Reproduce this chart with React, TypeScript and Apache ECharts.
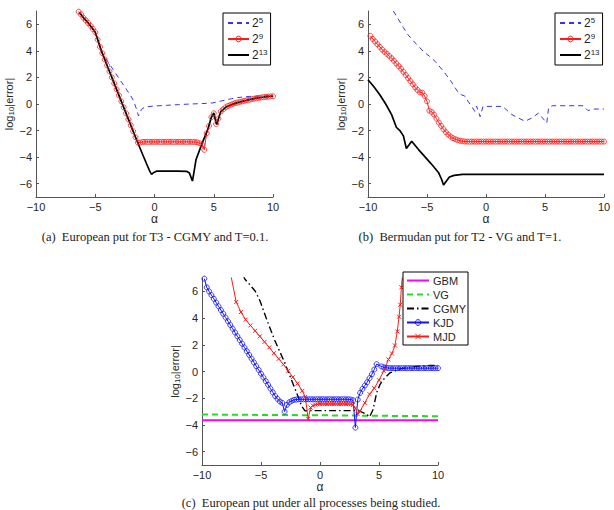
import React, { useEffect, useRef } from 'react';
import * as echarts from 'echarts';

// ---------- (a) European put, T3 - CGMY, T=0.1 ----------
const A_N5: number[][] = [[-6.35,6.9],[-6.0,6.5],[-5.5,6.0],[-5.0,5.4],[-4.7,4.6],[-4.4,3.8],[-4.0,3.27],[-3.5,2.6],[-3.0,1.93],[-2.5,1.27],[-2.0,0.6],[-1.8,0.3],[-1.55,-0.3],[-1.35,-0.9],[-1.1,-0.4],[-0.8,-0.22],[0,-0.15],[1,-0.1],[2,-0.05],[3,0.0],[4,0.03],[4.9,0.08],[5.5,0.2],[6.0,0.3],[6.5,0.4],[7.0,0.48],[7.5,0.53],[8.0,0.57],[9.0,0.6],[10,0.62]];
const A_N9: number[][] = [[-6.4,6.95],[-6.2,6.75],[-6.0,6.5],[-5.8,6.3],[-5.6,6.1],[-5.4,5.9],[-5.2,5.65],[-5.0,5.4],[-4.8,4.85],[-4.6,4.3],[-4.4,3.82],[-4.2,3.35],[-4.0,2.9],[-3.8,2.45],[-3.6,2.0],[-3.4,1.55],[-3.2,1.1],[-3.0,0.65],[-2.8,0.2],[-2.6,-0.25],[-2.4,-0.7],[-2.2,-1.15],[-2.0,-1.6],[-1.8,-2.05],[-1.6,-2.5],[-1.4,-2.9],[-1.2,-2.9],[-1.0,-2.86],[-0.8,-2.85],[-0.6,-2.85],[-0.4,-2.85],[-0.2,-2.85],[0,-2.85],[0.2,-2.85],[0.4,-2.85],[0.6,-2.85],[0.8,-2.85],[1.0,-2.85],[1.2,-2.85],[1.4,-2.85],[1.6,-2.85],[1.8,-2.85],[2.0,-2.85],[2.2,-2.85],[2.4,-2.85],[2.6,-2.85],[2.8,-2.85],[3.0,-2.85],[3.2,-2.85],[3.4,-2.86],[3.6,-2.88],[3.8,-2.95],[4.0,-3.05],[4.2,-3.45],[4.4,-2.2],[4.6,-1.65],[4.8,-1.0],[5.0,-0.7],[5.2,-1.5],[5.4,-1.1],[5.6,-0.55],[5.8,-0.4],[6.0,-0.25],[6.2,-0.15],[6.4,-0.07],[6.6,0.0],[6.8,0.06],[7.0,0.11],[7.2,0.16],[7.4,0.2],[7.6,0.24],[7.8,0.28],[8.0,0.32],[8.2,0.36],[8.4,0.4],[8.6,0.43],[8.8,0.46],[9.0,0.49],[9.2,0.51],[9.4,0.53],[9.6,0.55],[9.8,0.57],[10.0,0.58]];
const A_N13: number[][] = [[-6.35,6.9],[-6.0,6.5],[-5.5,6.0],[-5.0,5.4],[-4.5,4.05],[-4.0,2.9],[-3.5,1.78],[-3.0,0.65],[-2.5,-0.48],[-2.0,-1.6],[-1.5,-2.73],[-1.0,-3.8],[-0.6,-4.65],[-0.4,-5.05],[-0.25,-5.3],[-0.05,-5.15],[0.2,-5.05],[1.0,-5.05],[2.0,-5.05],[2.7,-5.07],[2.95,-5.2],[3.2,-5.8],[3.3,-5.3],[3.5,-4.2],[4.0,-3.0],[4.5,-1.9],[4.8,-1.0],[5.0,-0.68],[5.25,-1.55],[5.6,-0.55],[6.0,-0.25],[6.5,-0.05],[7.0,0.1],[7.5,0.22],[8.0,0.33],[8.5,0.42],[9.0,0.49],[9.5,0.55],[10,0.6]];

// ---------- (b) Bermudan put, T2 - VG, T=1 ----------
const B_N5: number[][] = [[-7.85,7.0],[-7.0,5.75],[-6.6,5.2],[-6.0,4.6],[-5.3,3.95],[-4.8,3.6],[-4.3,3.2],[-3.5,2.35],[-3.0,1.75],[-2.6,1.2],[-2.3,0.8],[-2.1,0.7],[-1.8,0.6],[-1.6,0.3],[-1.2,-0.2],[-0.95,-0.55],[-0.8,-0.15],[-0.5,-0.95],[-0.25,-0.18],[1.4,-0.18],[2.2,-0.8],[3.3,-1.3],[3.9,-1.05],[4.45,-0.68],[4.7,-0.95],[5.15,-1.43],[5.3,-0.3],[5.6,-0.13],[8.25,-0.13],[8.65,-0.5],[9.0,-0.38],[10,-0.38]];
const B_N9: number[][] = [[-9.8,5.13],[-9.6,4.9],[-9.4,4.7],[-9.2,4.5],[-9.0,4.3],[-8.8,4.1],[-8.6,3.92],[-8.4,3.78],[-8.2,3.62],[-8.0,3.45],[-7.8,3.25],[-7.6,3.05],[-7.4,2.85],[-7.2,2.65],[-7.0,2.42],[-6.8,2.18],[-6.6,1.95],[-6.4,1.72],[-6.2,1.48],[-6.0,1.25],[-5.8,1.05],[-5.6,0.88],[-5.4,0.85],[-5.2,0.6],[-5.0,0.2],[-4.8,-0.5],[-4.6,-0.6],[-4.4,-0.8],[-4.2,-1.1],[-4.0,-1.4],[-3.8,-1.65],[-3.6,-1.9],[-3.4,-2.12],[-3.2,-2.3],[-3.0,-2.45],[-2.8,-2.57],[-2.6,-2.65],[-2.4,-2.72],[-2.2,-2.76],[-2.0,-2.8],[-1.8,-2.82],
[-1.6,-2.83],[-1.4,-2.83],[-1.2,-2.83],[-1.0,-2.83],[-0.8,-2.83],[-0.6,-2.83],[-0.4,-2.83],[-0.2,-2.83],[0,-2.83],[0.2,-2.83],[0.4,-2.83],[0.6,-2.83],[0.8,-2.83],[1.0,-2.83],[1.2,-2.83],[1.4,-2.83],[1.6,-2.83],[1.8,-2.83],[2.0,-2.83],[2.2,-2.83],[2.4,-2.83],[2.6,-2.83],[2.8,-2.83],[3.0,-2.83],[3.2,-2.83],[3.4,-2.83],[3.6,-2.83],[3.8,-2.83],[4.0,-2.83],[4.2,-2.83],[4.4,-2.83],[4.6,-2.83],[4.8,-2.83],[5.0,-2.83],[5.2,-2.83],[5.4,-2.83],[5.6,-2.83],[5.8,-2.83],[6.0,-2.83],[6.2,-2.83],[6.4,-2.83],[6.6,-2.83],[6.8,-2.83],[7.0,-2.83],[7.2,-2.83],[7.4,-2.83],[7.6,-2.83],[7.8,-2.83],[8.0,-2.83],[8.2,-2.83],[8.4,-2.83],[8.6,-2.83],[8.8,-2.83],[9.0,-2.83],[9.2,-2.83],[9.4,-2.83],[9.6,-2.83],[9.8,-2.83],[10.0,-2.83]];
const B_N13: number[][] = [[-10,1.83],[-9.5,1.3],[-9.0,0.7],[-8.5,0.0],[-8.0,-0.8],[-7.6,-1.75],[-7.3,-2.0],[-7.0,-2.4],[-6.75,-3.35],[-6.5,-3.05],[-6.3,-2.8],[-5.7,-3.45],[-5.0,-4.15],[-4.5,-4.65],[-4.0,-5.2],[-3.75,-5.7],[-3.6,-6.1],[-3.4,-5.85],[-3.1,-5.5],[-2.7,-5.37],[-2.0,-5.3],[0,-5.3],[10,-5.3]];

// ---------- (c) European put under all processes ----------
const C_GBM: number[][] = [[-10,-3.65],[10,-3.65]];
const C_VG: number[][] = [[-10,-3.22],[0,-3.28],[10,-3.35]];
const C_CGMY: number[][] = [[-6.5,7.2],[-6.36,6.9],[-5.9,6.45],[-5.5,6.03],[-5.08,5.28],[-4.52,3.9],[-3.81,2.28],[-3.11,0.9],[-2.54,-0.35],[-1.98,-1.6],[-1.55,-2.6],[-1.27,-2.95],[-1.0,-2.93],[3.1,-2.93],[3.4,-2.98],[3.95,-3.2],[4.2,-3.4],[4.5,-2.85],[4.8,-1.6],[5.08,-0.98],[5.37,-0.6],[5.93,-0.1],[6.8,0.2],[7.5,0.3],[8.2,0.38],[9.3,0.45],[10,0.45]];
const C_KJD: number[][] = [[-9.8,6.95],[-9.6,6.3],[-9.4,6.0],[-9.2,5.72],[-9.0,5.44],[-8.8,5.16],[-8.6,4.88],[-8.4,4.6],[-8.2,4.32],[-8.0,4.04],[-7.8,3.76],[-7.6,3.48],[-7.4,3.2],[-7.2,2.92],[-7.0,2.64],[-6.8,2.36],[-6.6,2.08],[-6.4,1.8],[-6.2,1.52],[-6.0,1.24],[-5.8,0.96],[-5.6,0.68],[-5.4,0.4],[-5.2,0.12],[-5.0,-0.16],[-4.8,-0.44],[-4.6,-0.72],[-4.4,-1.0],[-4.2,-1.28],[-4.0,-1.56],[-3.8,-1.84],[-3.6,-2.05],[-3.4,-2.25],[-3.2,-2.35],[-3.0,-3.0],[-2.8,-2.5],[-2.6,-2.3],[-2.4,-2.2],[-2.2,-2.12],[-2.0,-2.1],
[-1.8,-2.08],[-1.6,-2.08],[-1.4,-2.08],[-1.2,-2.08],[-1.0,-2.08],[-0.8,-2.08],[-0.6,-2.08],[-0.4,-2.08],[-0.2,-2.08],[0,-2.08],[0.2,-2.08],[0.4,-2.08],[0.6,-2.08],[0.8,-2.08],[1.0,-2.08],[1.2,-2.08],[1.4,-2.08],[1.6,-2.08],[1.8,-2.08],[2.0,-2.08],[2.2,-2.08],[2.4,-2.08],[2.6,-2.1],[2.8,-2.15],[3.0,-4.2],[3.2,-2.1],[3.4,-1.6],[3.6,-1.3],[3.8,-1.05],[4.0,-0.8],[4.2,-0.5],[4.4,-0.2],[4.6,0.15],[4.8,0.55],[5.2,0.38],[5.4,0.32],[5.6,0.28],[5.8,0.26],[6.0,0.25],[6.2,0.25],[6.4,0.25],[6.6,0.25],[6.8,0.25],[7.0,0.25],[7.2,0.25],[7.4,0.25],[7.6,0.25],[7.8,0.25],[8.0,0.25],[8.2,0.25],[8.4,0.25],[8.6,0.25],[8.8,0.25],[9.0,0.25],[9.2,0.25],[9.4,0.25],[9.6,0.25],[9.8,0.25],[10.0,0.25]];
const C_MJD: number[][] = [[-7.6,7.4],[-7.1,5.2],[-6.7,4.45],[-6.3,3.88],[-5.9,3.45],[-5.5,3.05],[-5.1,2.63],[-4.7,2.22],[-4.3,1.8],[-3.9,1.37],[-3.5,0.95],[-3.1,0.53],[-2.7,0.06],[-2.3,-0.43],[-1.9,-0.9],[-1.5,-1.45],[-1.25,-1.9],[-1.0,-3.55],[-0.8,-2.7],[-0.6,-2.55],[-0.4,-2.48],[-0.2,-2.45],[0,-2.43],[0.2,-2.43],[0.4,-2.43],[0.6,-2.43],[0.8,-2.43],[1.0,-2.43],[1.2,-2.43],[1.4,-2.43],[1.6,-2.43],[1.8,-2.43],[2.0,-2.43],[2.2,-2.43],[2.4,-2.43],[2.6,-2.45],[2.8,-2.5],[3.0,-2.75],[3.2,-3.2],[3.4,-2.95],[3.8,-2.35],[4.2,-1.7],[4.6,-1.25],[5.0,-0.65],[5.4,0.05],[5.8,0.9],[6.1,1.35],[6.35,1.95],[6.55,3.0],[6.7,4.1],[6.8,5.0],[6.9,6.3],[7.0,7.3]];

const Y_TICKS = [-6, -4, -2, 0, 2, 4, 6];
const LEG_AB = ['2^5', '2^9', '2^13'];
const LEG_C = ['GBM', 'VG', 'CGMY', 'KJD', 'MJD'];
const NO_MARKER = ['2^5', '2^13', 'GBM', 'VG', 'CGMY'];
const CAPTIONS = [
  '(a)\u00a0\u00a0European put for T3 - CGMY and T=0.1.',
  '(b)\u00a0\u00a0Bermudan put for T2 - VG and T=1.',
  '(c)\u00a0\u00a0European put under all processes being studied.',
];

const SANS = '"Liberation Sans", Arial, sans-serif';
const SERIF = '"Liberation Serif", "Times New Roman", serif';
const AX = '#555';
const TXT = '#262626';

const minus = (v: number) => String(v).replace('-', '\u2212');

function xAxis(gi: number) {
  return {
    type: 'value', gridIndex: gi, min: -10, max: 10, interval: 5,
    name: 'α', nameLocation: 'middle', nameGap: 14,
    nameTextStyle: { fontSize: 12, color: TXT, fontFamily: SANS },
    axisLine: { show: true, onZero: false, lineStyle: { color: AX, width: 1 } },
    axisTick: { show: true, inside: true, length: 3, lineStyle: { color: AX } },
    axisLabel: { fontSize: 11, color: TXT, margin: 4, fontFamily: SANS, formatter: minus },
    splitLine: { show: false },
  };
}
function yAxis(gi: number) {
  return {
    type: 'value', gridIndex: gi, min: -7, max: 7,
    name: 'log{s|10}|error|', nameLocation: 'middle', nameGap: 20, nameRotate: 90,
    nameTextStyle: { fontSize: 11, color: TXT, fontFamily: SANS, lineHeight: 14,
      rich: { s: { fontSize: 8, lineHeight: 6, verticalAlign: 'bottom', fontFamily: SANS, color: TXT } } },
    axisLine: { show: true, onZero: false, lineStyle: { color: AX, width: 1 } },
    axisTick: { show: true, inside: true, length: 3, customValues: Y_TICKS, lineStyle: { color: AX } },
    axisLabel: { fontSize: 11, color: TXT, margin: 4, fontFamily: SANS, customValues: Y_TICKS, formatter: minus },
    splitLine: { show: false },
  };
}

const BLUE = '#3535f0';
const RED = '#ff1a1a';

function line(name: string, gi: number, data: number[][], extra: any) {
  return {
    type: 'line', name, xAxisIndex: gi, yAxisIndex: gi, data,
    showSymbol: false, symbol: 'none', silent: true, ...extra,
  };
}

const legendData = (names: string[]) =>
  names.map((n) => (NO_MARKER.includes(n)
    ? { name: n, itemStyle: { opacity: 0 } }
    : { name: n, itemStyle: { color: 'rgba(0,0,0,0)', borderWidth: 1 } }));

function legendAB(left: number) {
  return {
    data: legendData(LEG_AB), left, top: 13, orient: 'vertical', selectedMode: false,
    backgroundColor: '#fff', borderColor: '#000', borderWidth: 1, padding: [3, 3, 3, 4],
    itemGap: 2, itemWidth: 21, itemHeight: 7,
    formatter: (n: string) => { const p = n.split('^'); return p.length > 1 ? `${p[0]}{s|${p[1]}}` : n; },
    textStyle: { fontSize: 12, color: TXT, fontFamily: SANS, lineHeight: 14, padding: [0, 0, 0, -2],
      rich: { s: { fontSize: 8, lineHeight: 6, verticalAlign: 'top', fontFamily: SANS, color: TXT } } },
  };
}

export default function App() {
  const ref = useRef<HTMLDivElement>(null);
  useEffect(() => {
    if (!ref.current) return;
    const chart = echarts.init(ref.current, undefined, { renderer: 'svg' });
    const circle = (color: string) => ({ showSymbol: true, symbol: 'circle', symbolSize: 5,
      itemStyle: { color: 'rgba(0,0,0,0)', borderColor: color, borderWidth: 0.8 } });
    const series: any[] = [];
    [0, 1].forEach((gi) => {
      const d5 = gi === 0 ? A_N5 : B_N5, d9 = gi === 0 ? A_N9 : B_N9, d13 = gi === 0 ? A_N13 : B_N13;
      series.push(line('2^5', gi, d5, { color: BLUE, lineStyle: { color: BLUE, width: 1, type: [5, 4] } }));
      series.push(line('2^9', gi, d9, { color: RED, lineStyle: { color: RED, width: 1 }, ...circle(RED) }));
      series.push(line('2^13', gi, d13, { color: '#000', lineStyle: { color: '#000', width: 1.7 } }));
    });
    series.push(line('GBM', 2, C_GBM, { color: '#ff00ff', lineStyle: { color: '#ff00ff', width: 2 } }));
    series.push(line('VG', 2, C_VG, { color: '#22dd22', lineStyle: { color: '#22dd22', width: 2, type: [6, 4] } }));
    series.push(line('CGMY', 2, C_CGMY, { color: '#000', lineStyle: { color: '#000', width: 1.4, type: [7, 3, 1.5, 3] } }));
    series.push(line('KJD', 2, C_KJD, { color: '#1010ff', lineStyle: { color: '#1010ff', width: 1 }, ...circle('#1010ff') }));
    series.push(line('MJD', 2, C_MJD, { color: RED, lineStyle: { color: RED, width: 1 }, showSymbol: true,
      symbol: 'path://M0,0L10,10M10,0L0,10', symbolSize: 4,
      itemStyle: { color: 'rgba(0,0,0,0)', borderColor: RED, borderWidth: 1 } }));

    chart.setOption({
      animation: false,
      backgroundColor: '#fff',
      grid: [
        { left: 36, top: 11, width: 237, height: 186 },
        { left: 368, top: 11, width: 236, height: 186 },
        { left: 202, top: 278, width: 236, height: 187 },
      ],
      xAxis: [xAxis(0), xAxis(1), xAxis(2)],
      yAxis: [yAxis(0), yAxis(1), yAxis(2)],
      legend: [
        legendAB(223),
        legendAB(555),
        {
          data: legendData(LEG_C), left: 403, top: 272, orient: 'vertical', selectedMode: false,
          backgroundColor: '#fff', borderColor: '#000', borderWidth: 1, padding: [2, 2, 2, 3],
          itemGap: 1, itemWidth: 22, itemHeight: 7,
          textStyle: { fontSize: 11, color: TXT, fontFamily: SANS, lineHeight: 13, padding: [0, 0, 0, -1] },
        },
      ],
      graphic: [
        { type: 'text', x: 155, y: 237, style: { text: CAPTIONS[0], font: `12.5px ${SERIF}`, fill: '#222', textAlign: 'center', textVerticalAlign: 'middle' } },
        { type: 'text', x: 460, y: 237, style: { text: CAPTIONS[1], font: `12.5px ${SERIF}`, fill: '#222', textAlign: 'center', textVerticalAlign: 'middle' } },
        { type: 'text', x: 311, y: 503, style: { text: CAPTIONS[2], font: `12.5px ${SERIF}`, fill: '#222', textAlign: 'center', textVerticalAlign: 'middle' } },
      ],
      series,
    });
    return () => chart.dispose();
  }, []);
  return <div ref={ref} style={{ position: 'fixed', left: 0, top: 0, width: 614, height: 510 }} />;
}
